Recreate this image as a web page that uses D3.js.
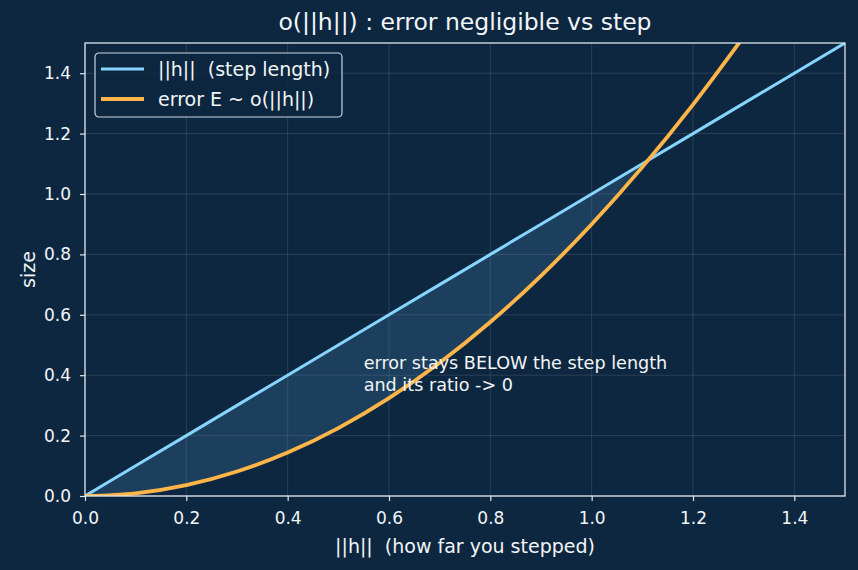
<!DOCTYPE html>
<html>
<head>
<meta charset="utf-8">
<script src="https://cdn.jsdelivr.net/npm/d3@7"></script>
<style>
  body { margin: 0; background: #0d2740; }
  svg { display: block; font-family: "DejaVu Sans", sans-serif; }
  text { white-space: pre; }
</style>
</head>
<body>
<svg id="chart" width="858" height="570"></svg>
<script>
// data
var stepH = [0, 0.1, 0.2, 0.3, 0.4, 0.5, 0.6, 0.7, 0.8, 0.9, 1.0, 1.1, 1.2, 1.3, 1.4, 1.5];
var stepLen = [0, 0.1, 0.2, 0.3, 0.4, 0.5, 0.6, 0.7, 0.8, 0.9, 1.0, 1.1, 1.2, 1.3, 1.4, 1.5];
var errH = [0, 0.1, 0.2, 0.3, 0.4, 0.5, 0.6, 0.7, 0.8, 0.9, 1.0, 1.1, 1.2, 1.3];
var errE = [0, 0.009, 0.036, 0.081, 0.144, 0.225, 0.324, 0.441, 0.576, 0.729, 0.9, 1.089, 1.296, 1.521];
var xTicks = [0.0, 0.2, 0.4, 0.6, 0.8, 1.0, 1.2, 1.4];
var yTicks = [0.0, 0.2, 0.4, 0.6, 0.8, 1.0, 1.2, 1.4];
var legendLabels = ["||h||  (step length)", "error E ~ o(||h||)"];

var bg = "#0d2740", fg = "#f2f5f8", spine = "#dfe7ef";
var blue = "#87d4ff", orange = "#ffb547";

var svg = d3.select("#chart");
svg.append("rect").attr("width", 858).attr("height", 570).attr("fill", bg);

var m = {left: 85, right: 845, top: 43, bottom: 496};
var x = d3.scaleLinear().domain([0, 1.5]).range([m.left, m.right]);
var y = d3.scaleLinear().domain([0, 1.5]).range([m.bottom, m.top]);

// grid
var grid = svg.append("g");
xTicks.forEach(function (t) {
  grid.append("line").attr("x1", x(t)).attr("x2", x(t)).attr("y1", m.top).attr("y2", m.bottom)
    .attr("stroke", "#ffffff").attr("stroke-opacity", 0.15).attr("stroke-width", 0.8);
});
yTicks.forEach(function (t) {
  grid.append("line").attr("y1", y(t)).attr("y2", y(t)).attr("x1", m.left).attr("x2", m.right)
    .attr("stroke", "#ffffff").attr("stroke-opacity", 0.15).attr("stroke-width", 0.8);
});

svg.append("clipPath").attr("id", "clip")
  .append("rect").attr("x", m.left).attr("y", m.top)
  .attr("width", m.right - m.left).attr("height", m.bottom - m.top);

var plot = svg.append("g").attr("clip-path", "url(#clip)");

// fill between line and error where error is below
var fillPts = [];
errH.forEach(function (h, i) {
  if (h <= 1.1) fillPts.push({h: h, lo: errE[i], hi: stepLen[stepH.indexOf(h)]});
});
fillPts.push({h: 1.111, lo: 1.111, hi: 1.111});
plot.append("path")
  .datum(fillPts)
  .attr("fill", "#4f86b8").attr("fill-opacity", 0.25)
  .attr("d", d3.area().x(function (d) { return x(d.h); })
    .y0(function (d) { return y(d.lo); }).y1(function (d) { return y(d.hi); })
    .curve(d3.curveMonotoneX));

plot.append("path")
  .datum(stepH.map(function (h, i) { return [h, stepLen[i]]; }))
  .attr("fill", "none").attr("stroke", blue).attr("stroke-width", 3)
  .attr("d", d3.line().x(function (d) { return x(d[0]); }).y(function (d) { return y(d[1]); }));

plot.append("path")
  .datum(errH.map(function (h, i) { return [h, errE[i]]; }))
  .attr("fill", "none").attr("stroke", orange).attr("stroke-width", 3.8)
  .attr("d", d3.line().x(function (d) { return x(d[0]); }).y(function (d) { return y(d[1]); })
    .curve(d3.curveMonotoneX));

// axes
var xAxis = svg.append("g").attr("transform", "translate(0," + m.bottom + ")")
  .call(d3.axisBottom(x).tickValues(xTicks).tickFormat(d3.format(".1f")).tickSize(5).tickPadding(11));
var yAxis = svg.append("g").attr("transform", "translate(" + m.left + ",0)")
  .call(d3.axisLeft(y).tickValues(yTicks).tickFormat(d3.format(".1f")).tickSize(5).tickPadding(9));
[xAxis, yAxis].forEach(function (a) {
  a.select(".domain").remove();
  a.selectAll("line").attr("stroke", spine).attr("stroke-width", 1.2);
  a.selectAll("text").attr("fill", fg).attr("font-size", "17px")
    .attr("font-family", "DejaVu Sans, sans-serif");
});

svg.append("rect").attr("x", m.left).attr("y", m.top)
  .attr("width", m.right - m.left).attr("height", m.bottom - m.top)
  .attr("fill", "none").attr("stroke", spine).attr("stroke-width", 1.3);

// titles
svg.append("text").attr("x", (m.left + m.right) / 2).attr("y", 30)
  .attr("text-anchor", "middle").attr("fill", fg).attr("font-size", "23.5px")
  .text("o(||h||) : error negligible vs step");
svg.append("text").attr("x", (m.left + m.right) / 2).attr("y", 553)
  .attr("text-anchor", "middle").attr("fill", fg).attr("font-size", "19px")
  .text("||h||  (how far you stepped)");
svg.append("text").attr("transform", "translate(35," + ((m.top + m.bottom) / 2) + ") rotate(-90)")
  .attr("text-anchor", "middle").attr("fill", fg).attr("font-size", "19px")
  .text("size");

// annotation
var note = svg.append("text").attr("fill", fg).attr("font-size", "17.6px");
note.append("tspan").attr("x", x(0.55)).attr("y", 369).text("error stays BELOW the step length");
note.append("tspan").attr("x", x(0.55)).attr("y", 391).text("and its ratio -> 0");

// legend
var lg = svg.append("g").attr("transform", "translate(95,53)");
lg.append("rect").attr("width", 247).attr("height", 64).attr("rx", 4)
  .attr("fill", bg).attr("fill-opacity", 0.85)
  .attr("stroke", "#c9d3dd").attr("stroke-width", 1.2);
[blue, orange].forEach(function (c, i) {
  lg.append("line").attr("x1", 6).attr("x2", 49).attr("y1", 16 + i * 30).attr("y2", 16 + i * 30)
    .attr("stroke", c).attr("stroke-width", i == 0 ? 3 : 3.8);
  lg.append("text").attr("x", 63).attr("y", 23 + i * 30).attr("fill", fg).attr("font-size", "19px")
    .text(legendLabels[i]);
});
</script>
</body>
</html>
